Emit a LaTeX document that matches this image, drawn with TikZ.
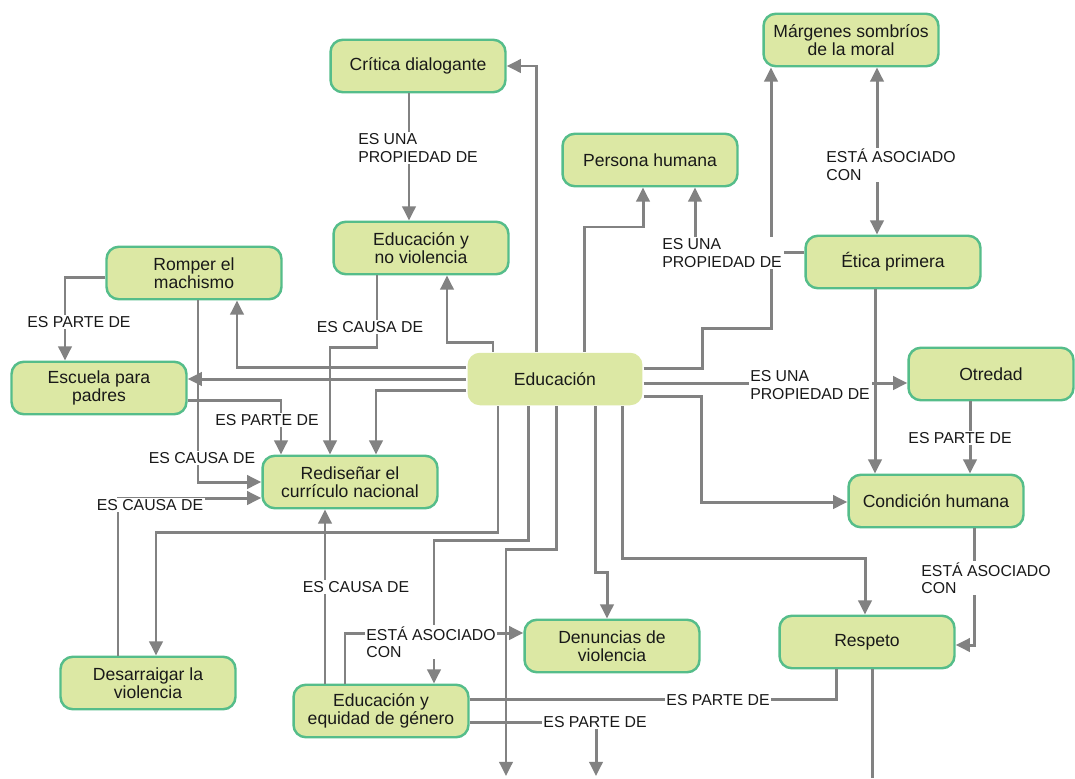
\documentclass[tikz,border=0pt]{standalone}
\usepackage{fontspec}
\setmainfont{Liberation Sans}
\usetikzlibrary{arrows.meta}

\definecolor{boxfill}{HTML}{DCE8A4}
\definecolor{boxline}{HTML}{55BD8A}
\definecolor{linkgray}{HTML}{828282}

\begin{document}
\begin{tikzpicture}[x = 0.02cm, y = -0.02cm,
        box/.style = {draw = boxline, line width = 1.4pt, fill = boxfill, rounded corners = 7pt,
            minimum width = 3.5cm, minimum height = 1.05cm, align = center, text = black!90,
            font = \fontsize{10}{10}\selectfont},
        hub/.style = {box, draw = none},
        link/.style = {draw = linkgray, line width = 1.7pt, ->},
        plain/.style = {draw = linkgray, line width = 1.7pt},
        lab/.style = {fill = white, inner sep = 1pt, align = left, text = black!90,
            font = \fontsize{9}{10}\selectfont},
        > = {Triangle[length = 8pt, width = 7.5pt]}]

        \fill[white] (0,0) rectangle (1075,778);
        \useasboundingbox (0,0) rectangle (1075,778);

        % concepts
        \node[hub] (edu) at (555,379) {Educación};
        \node[box] (crit) at (418,66) {Crítica dialogante};
        \node[box] (evio) at (421,248) {Educación y\\no violencia};
        \node[box] (pers) at (650,160) {Persona humana};
        \node[box] (marg) at (851,40) {Márgenes sombríos\\de la moral};
        \node[box] (etica) at (893,262) {Ética primera};
        \node[box] (romp) at (194,273) {Romper el\\machismo};
        \node[box] (escu) at (99,388) {Escuela para\\padres};
        \node[box] (redi) at (350,482) {Rediseñar el\\currículo nacional};
        \node[box, minimum width = 3.3cm] (otre) at (991,374) {Otredad};
        \node[box] (cond) at (936,501) {Condición humana};
        \node[box] (resp) at (867,642) {Respeto};
        \node[box] (denu) at (612,646) {Denuncias de\\violencia};
        \node[box] (equi) at (381,711) {Educación y\\equidad de género};
        \node[box] (desa) at (148,683) {Desarraigar la\\violencia};

        \coordinate (outa) at (506,776);
        \coordinate (outb) at (596,776);
        \coordinate (outc) at (872,778);

        % out of Educacion
        \draw[link] (edu.north -| 493,0) -- (493,342) -- (447,342) -- (evio.south -| 447,0);
        \draw[link] (edu.north -| 536,0) -- (536,66) -- (crit.east);
        \draw[link] (edu.north -| 584,0) -- (584,227) -- (643,227) -- (pers.south -| 643,0);
        \draw[link] (edu.east |- 0,368) -- (702,368) -- (702,328) -- (771,328) -- (marg.south -| 771,0);
        \draw[link] (edu.east |- 0,383) -- (otre.west |- 0,383);
        \draw[link] (edu.east |- 0,396) -- (701,396) -- (701,502) -- (cond.west |- 0,502);
        \draw[link] (edu.south -| 622,0) -- (622,558) -- (865,558) -- (resp.north -| 865,0);
        \draw[link] (edu.south -| 595,0) -- (595,572) -- (607,572) -- (denu.north -| 607,0);
        \draw[link] (edu.south -| 556,0) -- (556,549) -- (506,549) -- (outa);
        \draw[link] (edu.south -| 528,0) -- (528,540) -- (434,540) -- (equi.north -| 434,0);
        \draw[link] (edu.south -| 498,0) -- (498,532) -- (156,532) -- (desa.north -| 156,0);
        \draw[link] (edu.west |- 0,367) -- (237,367) -- (romp.south -| 237,0);
        \draw[link] (edu.west |- 0,379) -- (escu.east |- 0,379);
        \draw[link] (edu.west |- 0,390) -- (376,390) -- (redi.north -| 376,0);

        % the others
        \draw[link] (crit.south -| 409,0) -- (evio.north -| 409,0);
        \draw[link] (etica.west |- 0,252) -- (695,252) -- (pers.south -| 695,0);
        \draw[link, <->] (marg.south -| 877,0) -- (etica.north -| 877,0);
        \draw[link] (etica.south -| 875,0) -- (cond.north -| 875,0);
        \draw[link] (otre.south -| 970,0) -- (cond.north -| 970,0);
        \draw[link] (cond.south -| 974,0) -- (974,645) -- (resp.east |- 0,645);
        \draw[plain] (resp.south -| 872,0) -- (outc);
        \draw[link] (romp.west |- 0,277) -- (65,277) -- (escu.north -| 65,0);
        \draw[link] (romp.south -| 198,0) -- (198,482) -- (redi.west);
        \draw[link] (escu.east |- 0,400) -- (281,400) -- (redi.north -| 281,0);
        \draw[link] (evio.south -| 377,0) -- (377,347) -- (330,347) -- (redi.north -| 330,0);
        \draw[link] (desa.north -| 118,0) -- (118,498) -- (redi.west |- 0,498);
        \draw[link] (equi.north -| 325,0) -- (redi.south -| 325,0);
        \draw[link] (equi.north -| 345,0) -- (345,633) -- (denu.west |- 0,633);
        \draw[plain] (equi.east |- 0,699) -- (836,699) -- (resp.south -| 836,0);
        \draw[link] (equi.east |- 0,722) -- (596,722) -- (outb);

        % link words
        \node[lab] (lcrit) at (418,148) {ES UNA\\PROPIEDAD DE};
        \node[lab] (letica) at (722,253) {ES UNA\\PROPIEDAD DE};
        \node[lab] (lmarg) at (891,165) {ESTÁ ASOCIADO\\CON};
        \node[lab] (lotre) at (810,385) {ES UNA\\PROPIEDAD DE};
        \node[lab] (lcond) at (960,438) {ES PARTE DE};
        \node[lab] (lresp) at (986,578) {ESTÁ ASOCIADO\\CON};
        \node[lab] (lromp) at (79,322) {ES PARTE DE};
        \node[lab] (lrompb) at (202,458) {ES CAUSA DE};
        \node[lab] (lescu) at (267,420) {ES PARTE DE};
        \node[lab] (levio) at (370,327) {ES CAUSA DE};
        \node[lab] (ldesa) at (150,505) {ES CAUSA DE};
        \node[lab] (lequi) at (356,587) {ES CAUSA DE};
        \node[lab] (ldenu) at (431,642) {ESTÁ ASOCIADO\\CON};
        \node[lab] (lequib) at (718,700) {ES PARTE DE};
        \node[lab] (lequic) at (595,722) {ES PARTE DE};
    \end{tikzpicture}
\end{document}
